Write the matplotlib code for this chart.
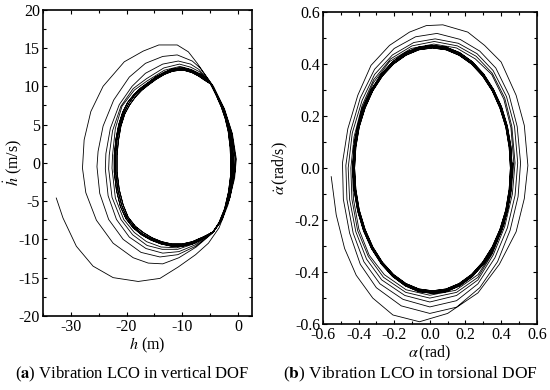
import numpy as np
import matplotlib
matplotlib.use("Agg")
import matplotlib.pyplot as plt
from matplotlib.ticker import MultipleLocator

plt.rcParams['font.family'] = ['Liberation Serif', 'DejaVu Serif']
plt.rcParams['mathtext.fontset'] = 'stix'
plt.rcParams['axes.unicode_minus'] = False

# ---- (a) vertical DOF: h (m) vs dh/dt (m/s) ----
h_tail = [(-32.6, -4.6), (-31.4, -7.2), (-29.0, -10.9), (-26.0, -13.5), (-22.4, -15.0),
          (-17.9, -15.5), (-14.0, -15.1), (-10.7, -13.6), (-7.6, -12.0), (-5.3, -10.5),
          (-3.4, -8.5), (-1.8, -5.5), (-0.6, -2.0), (-0.3, 0.5)]

h_loop1 = [(-0.3, 0.5), (-1.0, 3.8), (-2.4, 7.0), (-4.4, 10.0), (-5.5, 11.1), (-7.3, 13.0),
           (-8.9, 14.5), (-10.9, 15.4), (-14.2, 15.4), (-17.0, 14.6), (-20.4, 13.2),
           (-24.2, 10.0), (-26.4, 6.7), (-27.6, 3.0), (-27.9, -0.7), (-27.3, -3.9),
           (-25.4, -7.5), (-22.4, -10.5), (-18.8, -12.4), (-16.1, -13.1), (-13.5, -13.2),
           (-10.6, -12.4), (-7.5, -11.0), (-4.6, -9.2), (-2.9, -7.3), (-1.4, -4.5),
           (-0.5, -1.0), (-0.4, 0.5)]
h_loop2 = [(-0.4, 0.5), (-1.1, 3.9), (-2.5, 7.1), (-4.5, 10.0), (-5.3, 10.9), (-6.8, 12.4),
           (-8.2, 13.3), (-10.9, 14.1), (-13.5, 13.9), (-16.6, 13.0), (-19.5, 11.2),
           (-22.3, 8.2), (-24.2, 4.8), (-25.1, 1.5), (-25.3, -0.5), (-24.8, -4.0),
           (-23.2, -7.4), (-20.6, -10.0), (-17.4, -11.7), (-14.0, -12.3), (-10.8, -12.0),
           (-7.6, -10.9), (-4.5, -9.1), (-2.9, -7.3), (-1.5, -4.6), (-0.6, -1.0), (-0.5, 0.5)]
h_loop3 = [(-0.5, 0.5), (-1.2, 3.9), (-2.6, 7.1), (-4.6, 10.1), (-5.2, 10.7), (-7.0, 12.2),
           (-8.5, 12.9), (-10.7, 13.3), (-13.5, 12.9), (-16.6, 11.7), (-19.0, 10.0),
           (-21.3, 7.6), (-22.9, 4.5), (-23.7, 1.2), (-23.8, -0.8), (-23.3, -4.3),
           (-21.8, -7.4), (-19.5, -9.7), (-16.5, -11.2), (-13.5, -11.8), (-10.6, -11.6),
           (-7.6, -10.7), (-4.5, -9.0), (-2.9, -7.3), (-1.6, -4.7), (-0.7, -1.0), (-0.7, 0.5)]
h_loop4 = [(-0.7, 0.5), (-1.3, 4.0), (-2.7, 7.2), (-4.7, 10.2), (-5.2, 10.6), (-6.9, 11.9),
           (-8.5, 12.5), (-10.5, 12.9), (-13.3, 12.4), (-16.4, 11.0), (-18.8, 9.7),
           (-21.0, 7.4), (-22.5, 4.2), (-23.1, 1.0), (-23.2, -0.8), (-22.6, -4.5),
           (-21.0, -7.4), (-18.9, -9.4), (-16.3, -10.8), (-13.6, -11.3), (-10.8, -11.3),
           (-7.6, -10.5), (-4.5, -9.0), (-2.9, -7.4), (-1.7, -4.8), (-0.8, -1.0), (-0.8, 0.4)]
h_loop5 = [(-0.8, 0.4), (-1.4, 4.0), (-2.7, 7.2), (-4.8, 10.3), (-5.3, 10.7), (-6.7, 11.6),
           (-8.4, 12.2), (-10.4, 12.6), (-13.2, 12.1), (-16.3, 10.7), (-18.6, 9.5),
           (-20.8, 7.4), (-22.0, 4.5), (-22.5, 1.0), (-22.6, -0.7), (-22.0, -4.6),
           (-20.5, -7.4), (-18.6, -9.1), (-16.4, -10.3), (-13.8, -11.0), (-11.0, -11.1),
           (-7.6, -10.4), (-4.4, -9.0), (-2.8, -7.4), (-1.7, -4.8), (-0.9, -1.0), (-0.9, 0.4)]
h_lc_a = [(-1.0, 0.0), (-1.1, 2.0), (-1.5, 4.1), (-2.1, 5.8), (-2.8, 7.3), (-3.7, 8.8),
          (-4.9, 10.3), (-5.8, 11.0), (-6.9, 11.6), (-8.3, 12.1), (-9.5, 12.35), (-10.5, 12.4),
          (-11.8, 12.25), (-13.2, 11.85), (-14.8, 11.2), (-16.2, 10.45), (-17.5, 9.75),
          (-18.7, 8.9), (-19.8, 7.9), (-20.7, 6.6), (-21.4, 5.0), (-21.9, 3.1), (-22.2, 1.0),
          (-22.2, -1.2), (-21.8, -3.6), (-21.1, -5.7), (-20.1, -7.3), (-18.8, -8.5),
          (-17.3, -9.4), (-15.6, -10.1), (-13.8, -10.6), (-11.9, -10.9), (-10.0, -10.9),
          (-8.2, -10.6), (-6.3, -9.9), (-4.4, -9.0), (-3.2, -7.8), (-2.2, -6.0), (-1.5, -3.8),
          (-1.1, -1.8), (-1.0, 0.0)]
h_lc_b = [(-1.15, 0.0), (-1.25, 2.0), (-1.6, 4.1), (-2.2, 5.8), (-2.9, 7.3), (-3.8, 8.8),
          (-4.9, 10.3), (-5.9, 10.9), (-7.0, 11.5), (-8.3, 11.95), (-9.5, 12.2), (-10.5, 12.25),
          (-11.8, 12.1), (-13.2, 11.7), (-14.8, 11.05), (-16.2, 10.3), (-17.4, 9.6),
          (-18.6, 8.75), (-19.6, 7.75), (-20.5, 6.5), (-21.2, 4.9), (-21.7, 3.0), (-21.95, 1.0),
          (-21.95, -1.2), (-21.55, -3.55), (-20.85, -5.6), (-19.9, -7.2), (-18.6, -8.4),
          (-17.2, -9.25), (-15.5, -9.95), (-13.8, -10.45), (-11.9, -10.75), (-10.0, -10.75),
          (-8.2, -10.45), (-6.3, -9.8), (-4.4, -9.0), (-3.3, -7.8), (-2.3, -6.0), (-1.6, -3.8),
          (-1.25, -1.8), (-1.15, 0.0)]
h_lc_c = [(-1.3, 0.0), (-1.4, 2.0), (-1.75, 4.1), (-2.3, 5.8), (-3.0, 7.3), (-3.9, 8.8),
          (-4.9, 10.3), (-6.0, 10.8), (-7.1, 11.35), (-8.3, 11.8), (-9.5, 12.05), (-10.5, 12.1),
          (-11.8, 11.95), (-13.2, 11.55), (-14.7, 10.9), (-16.1, 10.15), (-17.3, 9.45),
          (-18.4, 8.6), (-19.4, 7.6), (-20.3, 6.4), (-21.0, 4.8), (-21.45, 2.9), (-21.7, 1.0),
          (-21.7, -1.2), (-21.3, -3.5), (-20.6, -5.5), (-19.7, -7.1), (-18.4, -8.3),
          (-17.0, -9.1), (-15.4, -9.8), (-13.7, -10.3), (-11.9, -10.6), (-10.0, -10.6),
          (-8.2, -10.3), (-6.3, -9.7), (-4.4, -9.0), (-3.4, -7.8), (-2.4, -6.0), (-1.7, -3.8),
          (-1.35, -1.8), (-1.3, 0.0)]

# ---- (b) torsional DOF: alpha (rad) vs dalpha/dt (rad/s) ----
a_tail = [(-0.553, -0.033), (-0.525, -0.18), (-0.478, -0.309), (-0.413, -0.412),
          (-0.32, -0.50), (-0.207, -0.565), (-0.058, -0.591), (0.10, -0.559),
          (0.27, -0.48), (0.39, -0.37), (0.484, -0.245), (0.53, -0.117), (0.55, 0.01)]
a_loop1 = [(0.55, 0.01), (0.53, 0.164), (0.484, 0.28), (0.40, 0.408), (0.307, 0.472),
           (0.213, 0.523), (0.073, 0.551), (-0.02, 0.548), (-0.114, 0.523), (-0.226, 0.472),
           (-0.33, 0.395), (-0.404, 0.28), (-0.46, 0.151), (-0.49, 0.02), (-0.485, -0.12),
           (-0.45, -0.25), (-0.39, -0.37), (-0.30, -0.46), (-0.16, -0.53), (0.0, -0.559),
           (0.15, -0.535), (0.28, -0.46), (0.38, -0.36), (0.45, -0.24), (0.495, -0.11),
           (0.509, 0.02)]
a_loop2 = [(0.509, 0.02), (0.49, 0.16), (0.445, 0.28), (0.37, 0.385), (0.28, 0.45),
           (0.17, 0.495), (0.04, 0.518), (-0.08, 0.505), (-0.2, 0.46), (-0.31, 0.38),
           (-0.39, 0.27), (-0.445, 0.14), (-0.471, 0.01), (-0.465, -0.12), (-0.43, -0.25),
           (-0.37, -0.36), (-0.28, -0.445), (-0.15, -0.505), (0.0, -0.534), (0.15, -0.51),
           (0.27, -0.445), (0.365, -0.345), (0.435, -0.23), (0.478, -0.105), (0.493, 0.02)]
a_loop3 = [(0.493, 0.02), (0.475, 0.16), (0.43, 0.275), (0.355, 0.375), (0.265, 0.44),
           (0.16, 0.48), (0.03, 0.497), (-0.09, 0.483), (-0.21, 0.435), (-0.31, 0.36),
           (-0.38, 0.26), (-0.435, 0.135), (-0.458, 0.0), (-0.45, -0.12), (-0.415, -0.245),
           (-0.355, -0.35), (-0.27, -0.43), (-0.14, -0.49), (0.0, -0.515), (0.15, -0.49),
           (0.27, -0.43), (0.355, -0.335), (0.42, -0.225), (0.463, -0.1), (0.478, 0.02)]
a_loop4 = [(0.478, 0.02), (0.46, 0.16), (0.42, 0.27), (0.35, 0.365), (0.26, 0.43),
           (0.155, 0.47), (0.025, 0.487), (-0.1, 0.47), (-0.22, 0.42), (-0.315, 0.34),
           (-0.38, 0.24), (-0.425, 0.12), (-0.443, 0.0), (-0.437, -0.12), (-0.405, -0.24),
           (-0.345, -0.34), (-0.26, -0.42), (-0.135, -0.478), (0.0, -0.50), (0.15, -0.478),
           (0.27, -0.42), (0.35, -0.33), (0.415, -0.22), (0.455, -0.1), (0.471, 0.02)]
a_loop5 = [(0.471, 0.02), (0.455, 0.155), (0.415, 0.265), (0.347, 0.36), (0.255, 0.42),
           (0.15, 0.462), (0.022, 0.477), (-0.105, 0.46), (-0.225, 0.41), (-0.315, 0.33),
           (-0.38, 0.23), (-0.42, 0.115), (-0.435, 0.0), (-0.428, -0.12), (-0.398, -0.235),
           (-0.34, -0.335), (-0.255, -0.41), (-0.133, -0.468), (0.0, -0.489), (0.145, -0.47),
           (0.27, -0.41), (0.35, -0.325), (0.415, -0.215), (0.45, -0.095), (0.466, 0.02)]
a_lc_a = [(0.462, 0.0), (0.455, 0.082), (0.435, 0.161), (0.402, 0.236), (0.357, 0.303),
          (0.302, 0.362), (0.239, 0.409), (0.168, 0.444), (0.093, 0.465), (0.015, 0.472),
          (-0.063, 0.465), (-0.138, 0.444), (-0.209, 0.409), (-0.272, 0.362), (-0.327, 0.303),
          (-0.372, 0.236), (-0.405, 0.161), (-0.425, 0.082), (-0.432, 0.0), (-0.425, -0.084),
          (-0.405, -0.165), (-0.372, -0.241), (-0.327, -0.310), (-0.272, -0.369),
          (-0.209, -0.417), (-0.138, -0.453), (-0.063, -0.475), (0.015, -0.482),
          (0.093, -0.475), (0.168, -0.453), (0.239, -0.417), (0.302, -0.369), (0.357, -0.310),
          (0.402, -0.241), (0.435, -0.165), (0.455, -0.084), (0.462, 0.0)]
a_lc_b = [(0.457, 0.0), (0.450, 0.081), (0.430, 0.160), (0.398, 0.234), (0.354, 0.300),
          (0.299, 0.358), (0.236, 0.404), (0.166, 0.439), (0.092, 0.460), (0.015, 0.467),
          (-0.062, 0.460), (-0.136, 0.439), (-0.206, 0.404), (-0.269, 0.358), (-0.324, 0.300),
          (-0.368, 0.234), (-0.400, 0.160), (-0.420, 0.081), (-0.427, 0.0), (-0.420, -0.083),
          (-0.400, -0.163), (-0.368, -0.239), (-0.324, -0.307), (-0.269, -0.365),
          (-0.206, -0.413), (-0.136, -0.448), (-0.062, -0.470), (0.015, -0.477),
          (0.092, -0.470), (0.166, -0.448), (0.236, -0.413), (0.299, -0.365), (0.354, -0.307),
          (0.398, -0.239), (0.430, -0.163), (0.450, -0.083), (0.457, 0.0)]
a_lc_c = [(0.452, 0.0), (0.445, 0.080), (0.426, 0.158), (0.393, 0.231), (0.350, 0.297),
          (0.296, 0.354), (0.234, 0.400), (0.164, 0.434), (0.091, 0.455), (0.015, 0.462),
          (-0.061, 0.455), (-0.134, 0.434), (-0.204, 0.400), (-0.266, 0.354), (-0.320, 0.297),
          (-0.363, 0.231), (-0.396, 0.158), (-0.415, 0.080), (-0.422, 0.0), (-0.415, -0.082),
          (-0.396, -0.161), (-0.363, -0.236), (-0.320, -0.303), (-0.266, -0.362),
          (-0.204, -0.409), (-0.134, -0.444), (-0.061, -0.465), (0.015, -0.472),
          (0.091, -0.465), (0.164, -0.444), (0.234, -0.409), (0.296, -0.362), (0.350, -0.303),
          (0.393, -0.236), (0.426, -0.161), (0.445, -0.082), (0.452, 0.0)]

h_path = [h_tail, h_loop1, h_loop2, h_loop3, h_loop4, h_loop5,
          h_lc_a, h_lc_b, h_lc_c, h_lc_a, h_lc_b, h_lc_c]
a_path = [a_tail, a_loop1, a_loop2, a_loop3, a_loop4, a_loop5,
          a_lc_a, a_lc_b, a_lc_c, a_lc_a, a_lc_b, a_lc_c]

captions = [r'($\mathbf{a}$) Vibration LCO in vertical DOF',
            r'($\mathbf{b}$) Vibration LCO in torsional DOF']

fig = plt.figure(figsize=(5.5, 3.9), dpi=100)
ax1 = fig.add_axes([0.078, 0.190, 0.380, 0.785])
ax2 = fig.add_axes([0.587, 0.169, 0.389, 0.800])


def draw(ax, segments):
    pts = np.array([p for seg in segments for p in seg])
    ax.plot(pts[:, 0], pts[:, 1], color='black', lw=0.6)


draw(ax1, h_path)
draw(ax2, a_path)

ax1.set_xlim(-35, 2.5)
ax1.set_ylim(-20, 20)
ax1.xaxis.set_major_locator(MultipleLocator(10))
ax1.xaxis.set_minor_locator(MultipleLocator(5))
ax1.yaxis.set_major_locator(MultipleLocator(5))
ax1.yaxis.set_minor_locator(MultipleLocator(2.5))
ax1.set_xlabel(r'$h$ (m)', fontsize=11.5)
ax1.set_ylabel(r'$\dot{h}$ (m/s)', fontsize=11.5)
ax1.xaxis.set_label_coords(0.5, -0.065)
ax1.yaxis.set_label_coords(-0.09, 0.5)

ax2.set_xlim(-0.6, 0.6)
ax2.set_ylim(-0.6, 0.6)
ax2.xaxis.set_major_locator(MultipleLocator(0.2))
ax2.xaxis.set_minor_locator(MultipleLocator(0.1))
ax2.yaxis.set_major_locator(MultipleLocator(0.2))
ax2.yaxis.set_minor_locator(MultipleLocator(0.1))
ax2.set_xlabel(r'$\alpha\,$(rad)', fontsize=11.5)
ax2.set_ylabel(r'$\dot{\alpha}\,$(rad/s)', fontsize=11.5)
ax2.xaxis.set_label_coords(0.5, -0.062)
ax2.yaxis.set_label_coords(-0.155, 0.5)

for ax in (ax1, ax2):
    ax.tick_params(which='both', direction='in', top=True, right=True, labelsize=11.5, pad=2)
    ax.tick_params(which='major', length=3, width=0.8)
    ax.tick_params(which='minor', length=2, width=0.8)
    for s in ax.spines.values():
        s.set_linewidth(1.2)

fig.text(0.24, 0.04, captions[0], ha='center', va='center', fontsize=12)
fig.text(0.747, 0.04, captions[1], ha='center', va='center', fontsize=12.5)

fig.savefig('out.png', dpi=100)
